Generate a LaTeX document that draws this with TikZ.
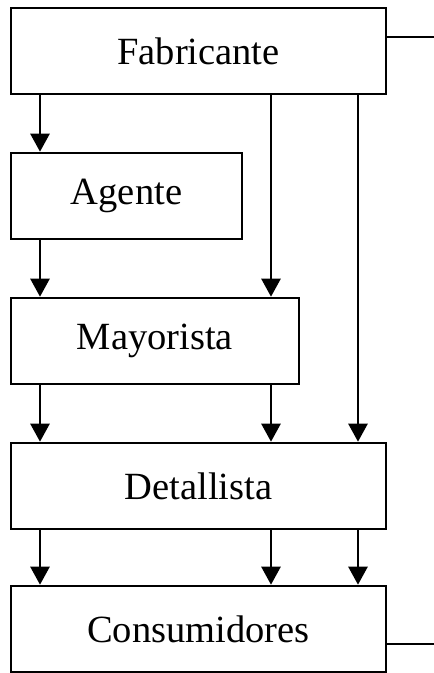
\documentclass[tikz,border=0pt]{standalone}
\usepackage{fontspec}
\setmainfont{Liberation Serif}
\usetikzlibrary{arrows.meta}
\begin{document}
\begin{tikzpicture}[x=1pt,y=-1pt,
  box/.style={draw=black,line width=2.6pt,rectangle,inner sep=0pt,minimum height=86pt,
    font=\fontsize{38.5}{46}\selectfont},
  arr/.style={line width=2.6pt,-{Triangle[width=19pt,length=18pt]}},
  plain/.style={line width=2.6pt}]
\useasboundingbox (0,0) rectangle (434,673);
\node[box,minimum width=375pt] (fab) at (198.5,51) {Fabricante};
\node[box,minimum width=231pt] (agt) at (126.5,196) {Agente};
\node[box,minimum width=288pt] (may) at (155,341) {Mayorista};
\node[box,minimum width=375pt] (det) at (198.5,486) {Detallista};
\node[box,minimum width=375pt] (con) at (198.5,629) {Consumidores};
\coordinate (xl) at (40,0);
\coordinate (xm) at (271,0);
\coordinate (xr) at (358,0);
\coordinate (r1) at (434,37);
\coordinate (r2) at (434,644);
% left column
\draw[arr] (fab.south -| xl) -- (agt.north -| xl);
\draw[arr] (agt.south -| xl) -- (may.north -| xl);
\draw[arr] (may.south -| xl) -- (det.north -| xl);
\draw[arr] (det.south -| xl) -- (con.north -| xl);
% middle column
\draw[arr] (fab.south -| xm) -- (may.north -| xm);
\draw[arr] (may.south -| xm) -- (det.north -| xm);
\draw[arr] (det.south -| xm) -- (con.north -| xm);
% right column
\draw[arr] (fab.south -| xr) -- (det.north -| xr);
\draw[arr] (det.south -| xr) -- (con.north -| xr);
% outgoing lines
\draw[plain] (r1 -| fab.east) -- (r1);
\draw[plain] (r2 -| con.east) -- (r2);
\end{tikzpicture}
\end{document}
